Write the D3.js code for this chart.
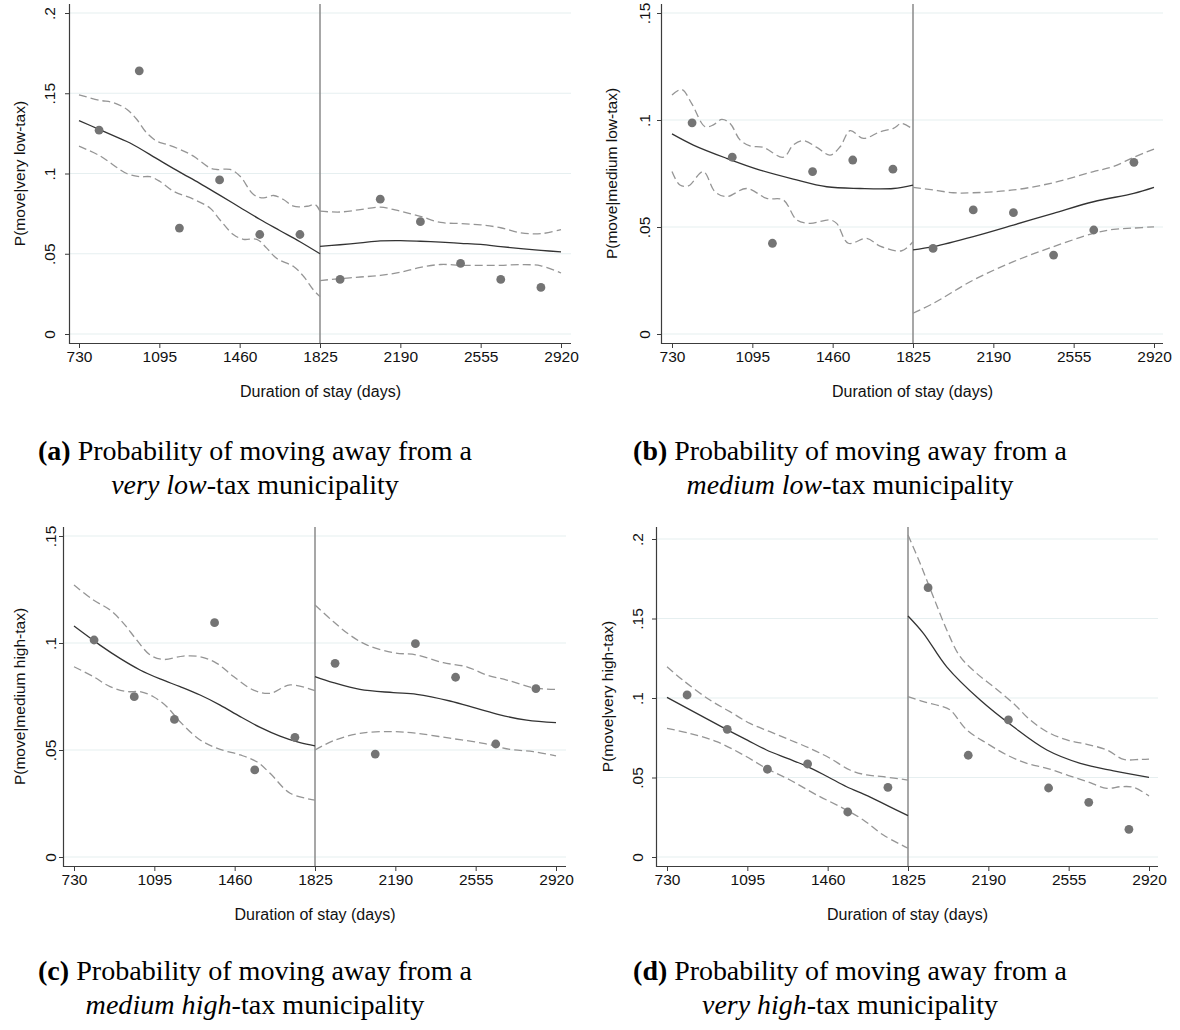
<!DOCTYPE html>
<html>
<head>
<meta charset="utf-8">
<script src="https://cdn.jsdelivr.net/npm/d3@7"></script>
<style>
  body { margin: 0; background: #fff; }
  svg { display: block; }
</style>
</head>
<body>
<svg id="fig" width="1180" height="1030"></svg>
<script>
// ---------- shared axis data ----------
const xTicks = [730, 1095, 1460, 1825, 2190, 2555, 2920];
const cutoffDay = 1825;
// half-year bin midpoints (days) for the binned move rates
const binDays = [821.25, 1003.75, 1186.25, 1368.75, 1551.25, 1733.75,
                 1916.25, 2098.75, 2281.25, 2463.75, 2646.25, 2828.75];
const yTicksWide = [0, 0.05, 0.1, 0.15, 0.2];
const yLabelsWide = ["0", ".05", ".1", ".15", ".2"];
const yTicksNarrow = [0, 0.05, 0.1, 0.15];
const yLabelsNarrow = ["0", ".05", ".1", ".15"];

// ---------- (a) very low-tax ----------
const ratesA = [0.127, 0.164, 0.066, 0.096, 0.062, 0.062, 0.034, 0.084, 0.070, 0.044, 0.034, 0.029];
const fitA_pre = [[730,0.133],[821,0.1275],[912,0.122],[962,0.119],[1095,0.1083],[1186,0.101],[1277,0.094],[1369,0.0865],[1460,0.079],[1551,0.0715],[1642,0.0645],[1734,0.0575],[1825,0.050]];
const hiA_pre = [[730,0.149],[825,0.1456],[886,0.1442],[947,0.140],[992,0.1338],[1037,0.1254],[1083,0.1202],[1129,0.1181],[1189,0.115],[1250,0.1108],[1325,0.1035],[1356,0.1025],[1417,0.1025],[1462,0.0983],[1523,0.0869],[1568,0.0848],[1614,0.0863],[1659,0.0838],[1705,0.0796],[1766,0.0796],[1803,0.0806],[1825,0.0765]];
const loA_pre = [[730,0.117],[825,0.111],[947,0.100],[1007,0.098],[1053,0.098],[1098,0.095],[1159,0.089],[1250,0.084],[1325,0.0785],[1371,0.071],[1431,0.062],[1477,0.059],[1538,0.059],[1583,0.0535],[1629,0.047],[1705,0.042],[1750,0.036],[1795,0.0275],[1825,0.0233]];
const fitA_post = [[1825,0.0546],[1916,0.0556],[2008,0.0568],[2099,0.0580],[2190,0.0582],[2281,0.0578],[2373,0.0572],[2464,0.0565],[2555,0.0558],[2646,0.0545],[2738,0.0532],[2829,0.0521],[2920,0.0512]];
const hiA_post = [[1825,0.0765],[1916,0.0760],[2008,0.0775],[2099,0.0790],[2190,0.0765],[2281,0.0733],[2373,0.0695],[2464,0.0688],[2555,0.0680],[2646,0.0662],[2738,0.0630],[2829,0.0625],[2920,0.0650]];
const loA_post = [[1825,0.0333],[1916,0.0345],[2008,0.0355],[2099,0.0365],[2190,0.0385],[2281,0.0415],[2373,0.0433],[2464,0.0428],[2555,0.0427],[2646,0.0428],[2738,0.0432],[2829,0.0425],[2920,0.0380]];

// ---------- (b) medium low-tax ----------
const ratesB = [0.0987, 0.0826, 0.0424, 0.0759, 0.0813, 0.077, 0.040, 0.058, 0.0567, 0.0369, 0.0486, 0.0802];
const fitB_pre = [[730,0.0935],[827,0.0883],[978,0.0821],[1130,0.0766],[1281,0.0724],[1433,0.0688],[1584,0.068],[1736,0.068],[1825,0.0696]];
const hiB_pre = [[730,0.1117],[774,0.1143],[819,0.1078],[880,0.0969],[918,0.0977],[956,0.1003],[994,0.0984],[1039,0.0907],[1084,0.0879],[1145,0.0872],[1236,0.0826],[1281,0.0883],[1327,0.0903],[1388,0.0872],[1448,0.0836],[1494,0.0875],[1539,0.095],[1600,0.0914],[1675,0.0945],[1736,0.0961],[1774,0.0984],[1825,0.0956]];
const loB_pre = [[730,0.0759],[766,0.0696],[804,0.0692],[872,0.0759],[925,0.0665],[978,0.0642],[1069,0.068],[1160,0.0634],[1236,0.0626],[1297,0.0533],[1357,0.0517],[1448,0.0533],[1478,0.0517],[1531,0.0424],[1615,0.0447],[1675,0.0411],[1774,0.0389],[1825,0.0431]];
const fitB_post = [[1825,0.0393],[1917,0.0408],[2099,0.0455],[2281,0.0509],[2463,0.0564],[2645,0.0618],[2828,0.0657],[2920,0.0685]];
const hiB_post = [[1825,0.0685],[1917,0.0673],[2008,0.066],[2099,0.066],[2281,0.0673],[2463,0.0707],[2645,0.0759],[2734,0.0782],[2828,0.0826],[2920,0.0864]];
const loB_post = [[1825,0.0097],[1917,0.0143],[2099,0.0252],[2281,0.0338],[2463,0.0408],[2645,0.047],[2736,0.0489],[2828,0.0495],[2920,0.0501]];

// ---------- (c) medium high-tax ----------
const ratesC = [0.1014, 0.0749, 0.0643, 0.1095, 0.0407, 0.0559, 0.0905, 0.0481, 0.0997, 0.084, 0.0528, 0.0787];
const fitC_pre = [[730,0.1079],[848,0.099],[939,0.0928],[1030,0.0874],[1121,0.0832],[1212,0.0796],[1303,0.0757],[1394,0.071],[1485,0.0656],[1576,0.0606],[1666,0.0565],[1757,0.0534],[1825,0.0519]];
const hiC_pre = [[730,0.1271],[818,0.1201],[894,0.1154],[955,0.1092],[1015,0.1014],[1076,0.0944],[1137,0.0923],[1227,0.0939],[1303,0.0936],[1379,0.0905],[1455,0.0843],[1546,0.078],[1621,0.0765],[1712,0.0804],[1825,0.0777]];
const loC_pre = [[730,0.0889],[818,0.0843],[894,0.0796],[970,0.0773],[1030,0.0773],[1091,0.0749],[1152,0.0702],[1212,0.0632],[1303,0.0547],[1394,0.0503],[1485,0.0477],[1561,0.0445],[1621,0.0391],[1712,0.0298],[1825,0.0266]];
const fitC_post = [[1825,0.0843],[1908,0.0815],[2029,0.0783],[2181,0.0768],[2287,0.076],[2438,0.0729],[2560,0.0694],[2665,0.0664],[2787,0.064],[2920,0.0628]];
const hiC_post = [[1825,0.1178],[1908,0.11],[1984,0.1037],[2060,0.0991],[2181,0.0955],[2287,0.0944],[2408,0.0908],[2514,0.0889],[2605,0.085],[2696,0.0827],[2817,0.0791],[2920,0.0783]];
const loC_post = [[1825,0.05],[1908,0.0543],[2029,0.0578],[2181,0.0586],[2287,0.0578],[2438,0.0555],[2590,0.0531],[2711,0.0503],[2817,0.0492],[2920,0.0473]];

// ---------- (d) very high-tax ----------
const ratesD = [0.1019, 0.0803, 0.0552, 0.0585, 0.0283, 0.0438, 0.1694, 0.064, 0.0863, 0.0434, 0.0344, 0.0174];
const fitD_pre = [[730,0.1004],[1000,0.0803],[1095,0.0735],[1182,0.0673],[1277,0.0620],[1364,0.0572],[1460,0.0505],[1546,0.0442],[1642,0.0385],[1734,0.0322],[1825,0.026]];
const hiD_pre = [[730,0.1196],[804,0.1110],[925,0.0987],[1016,0.0914],[1107,0.084],[1198,0.0788],[1289,0.0736],[1380,0.0683],[1471,0.0621],[1561,0.0547],[1637,0.0516],[1713,0.0505],[1825,0.0484]];
const loD_pre = [[730,0.0809],[835,0.0777],[956,0.0725],[1077,0.0642],[1182,0.0557],[1289,0.0484],[1410,0.039],[1531,0.0306],[1622,0.0233],[1713,0.0138],[1825,0.0055]];
const fitD_post = [[1825,0.1516],[1895,0.1407],[2001,0.1196],[2153,0.0987],[2304,0.0819],[2456,0.0673],[2608,0.0589],[2759,0.0542],[2920,0.0501]];
const hiD_post = [[1825,0.2025],[1880,0.1847],[1940,0.1637],[2001,0.1428],[2062,0.126],[2137,0.1155],[2213,0.1071],[2304,0.0966],[2380,0.0862],[2456,0.0788],[2547,0.0736],[2638,0.0709],[2729,0.0673],[2805,0.0614],[2881,0.0614],[2920,0.0616]];
const loD_post = [[1825,0.1008],[1895,0.0977],[1971,0.095],[2016,0.0925],[2092,0.0799],[2183,0.0715],[2274,0.0642],[2365,0.0589],[2456,0.0558],[2547,0.0516],[2638,0.0474],[2729,0.0432],[2790,0.0442],[2850,0.0438],[2920,0.0384]];

// ---------- text ----------
const yTitles = ["P(move|very low-tax)", "P(move|medium low-tax)", "P(move|medium high-tax)", "P(move|very high-tax)"];
const xTitle = "Duration of stay (days)";
const captionTags = ["(a)", "(b)", "(c)", "(d)"];
const captionLine1 = "Probability of moving away from a";
const captionItalic = ["very low", "medium low", "medium high", "very high"];
const captionRest = "-tax municipality";

// ---------- panel layout ----------
const layout = [
  { xr: [79, 561],   axisX: 70,  xEnd: 571,  yr: [334, 13],  top: 4,   axisY: 343, tickLblX: 55,  titleX: 25,  capX: 255, capY: 460 },
  { xr: [672, 1154], axisX: 662, xEnd: 1163, yr: [334, 13],  top: 4,   axisY: 343, tickLblX: 650, titleX: 617, capX: 850, capY: 460 },
  { xr: [74, 556],   axisX: 64,  xEnd: 566,  yr: [857, 536], top: 527, axisY: 866, tickLblX: 56,  titleX: 25,  capX: 255, capY: 980 },
  { xr: [667, 1149], axisX: 657, xEnd: 1158, yr: [857, 539], top: 527, axisY: 866, tickLblX: 643, titleX: 613, capX: 850, capY: 980 }
];

const panels = [
  { rates: ratesA, yMax: 0.2,  yTicks: yTicksWide,   yLabels: yLabelsWide,
    pre: [fitA_pre, hiA_pre, loA_pre], post: [fitA_post, hiA_post, loA_post] },
  { rates: ratesB, yMax: 0.15, yTicks: yTicksNarrow, yLabels: yLabelsNarrow,
    pre: [fitB_pre, hiB_pre, loB_pre], post: [fitB_post, hiB_post, loB_post] },
  { rates: ratesC, yMax: 0.15, yTicks: yTicksNarrow, yLabels: yLabelsNarrow,
    pre: [fitC_pre, hiC_pre, loC_pre], post: [fitC_post, hiC_post, loC_post] },
  { rates: ratesD, yMax: 0.2,  yTicks: yTicksWide,   yLabels: yLabelsWide,
    pre: [fitD_pre, hiD_pre, loD_pre], post: [fitD_post, hiD_post, loD_post] }
];

const svg = d3.select("#fig");
const sansFont = "'Liberation Sans', Arial, Helvetica, sans-serif";
const serifFont = "'Liberation Serif', 'Times New Roman', serif";

const COL = {
  grid: "#e6eff0",
  axis: "#3c3c3c",
  cut: "#8a8a8a",
  fit: "#333333",
  ci: "#959595",
  dot: "#747474"
};

panels.forEach((p, i) => {
  const L = layout[i];
  const g = svg.append("g");
  const x = d3.scaleLinear().domain([730, 2920]).range(L.xr);
  const y = d3.scaleLinear().domain([0, p.yMax]).range(L.yr);

  // horizontal grid lines
  g.selectAll("line.grid").data(p.yTicks).join("line")
    .attr("x1", L.axisX).attr("x2", L.xEnd)
    .attr("y1", d => y(d)).attr("y2", d => y(d))
    .attr("stroke", COL.grid).attr("stroke-width", 1.2);

  // x axis
  const xAxis = d3.axisBottom(x).tickValues(xTicks).tickSize(5).tickSizeOuter(0).tickFormat(d3.format("d"));
  const gx = g.append("g").attr("transform", `translate(0,${L.axisY})`).call(xAxis);
  gx.select(".domain").remove();
  gx.append("line").attr("x1", L.axisX).attr("x2", L.xEnd).attr("y1", 0.5).attr("y2", 0.5)
    .attr("stroke", COL.axis).attr("stroke-width", 1.2);
  gx.selectAll(".tick line").attr("stroke", COL.axis);
  gx.selectAll(".tick text").attr("y", 8).attr("dy", "0.71em")
    .style("font-family", sansFont).style("font-size", "15.5px").attr("fill", "#111");

  // y axis
  const yAxis = d3.axisLeft(y).tickValues(p.yTicks).tickSize(5).tickSizeOuter(0)
    .tickFormat((d, k) => p.yLabels[k]);
  const gy = g.append("g").attr("transform", `translate(${L.axisX},0)`).call(yAxis);
  gy.select(".domain").remove();
  gy.append("line").attr("x1", -0.5).attr("x2", -0.5).attr("y1", L.top).attr("y2", L.axisY + 1)
    .attr("stroke", COL.axis).attr("stroke-width", 1.2);
  gy.selectAll(".tick line").attr("stroke", COL.axis);
  gy.selectAll(".tick text")
    .attr("x", null).attr("dy", null)
    .attr("transform", `translate(${L.tickLblX - L.axisX},0) rotate(-90)`)
    .attr("text-anchor", "middle")
    .style("font-family", sansFont).style("font-size", "15.5px").attr("fill", "#111");

  // cutoff reference line at five years
  g.append("line")
    .attr("x1", x(cutoffDay)).attr("x2", x(cutoffDay))
    .attr("y1", L.top).attr("y2", L.axisY)
    .attr("stroke", COL.cut).attr("stroke-width", 1.5);

  // local fits and confidence bands, drawn separately on each side of the cutoff
  const line = d3.line().x(d => x(d[0])).y(d => y(d[1])).curve(d3.curveCatmullRom.alpha(0.5));
  [p.pre, p.post].forEach(seg => {
    const [fit, hi, lo] = seg;
    [hi, lo].forEach(band => {
      g.append("path").attr("d", line(band)).attr("fill", "none")
        .attr("stroke", COL.ci).attr("stroke-width", 1.3).attr("stroke-dasharray", "8,4");
    });
    g.append("path").attr("d", line(fit)).attr("fill", "none")
      .attr("stroke", COL.fit).attr("stroke-width", 1.3);
  });

  // binned rates
  g.selectAll("circle.bin").data(p.rates).join("circle")
    .attr("cx", (d, k) => x(binDays[k])).attr("cy", d => y(d))
    .attr("r", 4.4).attr("fill", COL.dot);

  // axis titles
  g.append("text")
    .attr("transform", `translate(${L.titleX},${(L.top + L.axisY) / 2}) rotate(-90)`)
    .attr("text-anchor", "middle")
    .style("font-family", sansFont).style("font-size", "15.5px").attr("fill", "#111")
    .text(yTitles[i]);
  g.append("text")
    .attr("x", (L.axisX + L.xEnd) / 2).attr("y", L.axisY + 54)
    .attr("text-anchor", "middle")
    .style("font-family", sansFont).style("font-size", "16px").attr("fill", "#111")
    .text(xTitle);

  // sub-figure caption
  const cap = g.append("g").style("font-family", serifFont).attr("fill", "#000");
  const t1 = cap.append("text").attr("x", L.capX).attr("y", L.capY).attr("text-anchor", "middle");
  t1.append("tspan").attr("font-weight", "bold").text(captionTags[i]);
  t1.append("tspan").text(" " + captionLine1);
  const t2 = cap.append("text").attr("x", L.capX).attr("y", L.capY + 34).attr("text-anchor", "middle");
  t2.append("tspan").attr("font-style", "italic").text(captionItalic[i]);
  t2.append("tspan").text(captionRest);

  // size the caption so that its first line spans the column width
  cap.style("font-size", "24px");
  const w = t1.node().getComputedTextLength();
  cap.style("font-size", (24 * 434 / w).toFixed(2) + "px");
});
</script>
</body>
</html>
